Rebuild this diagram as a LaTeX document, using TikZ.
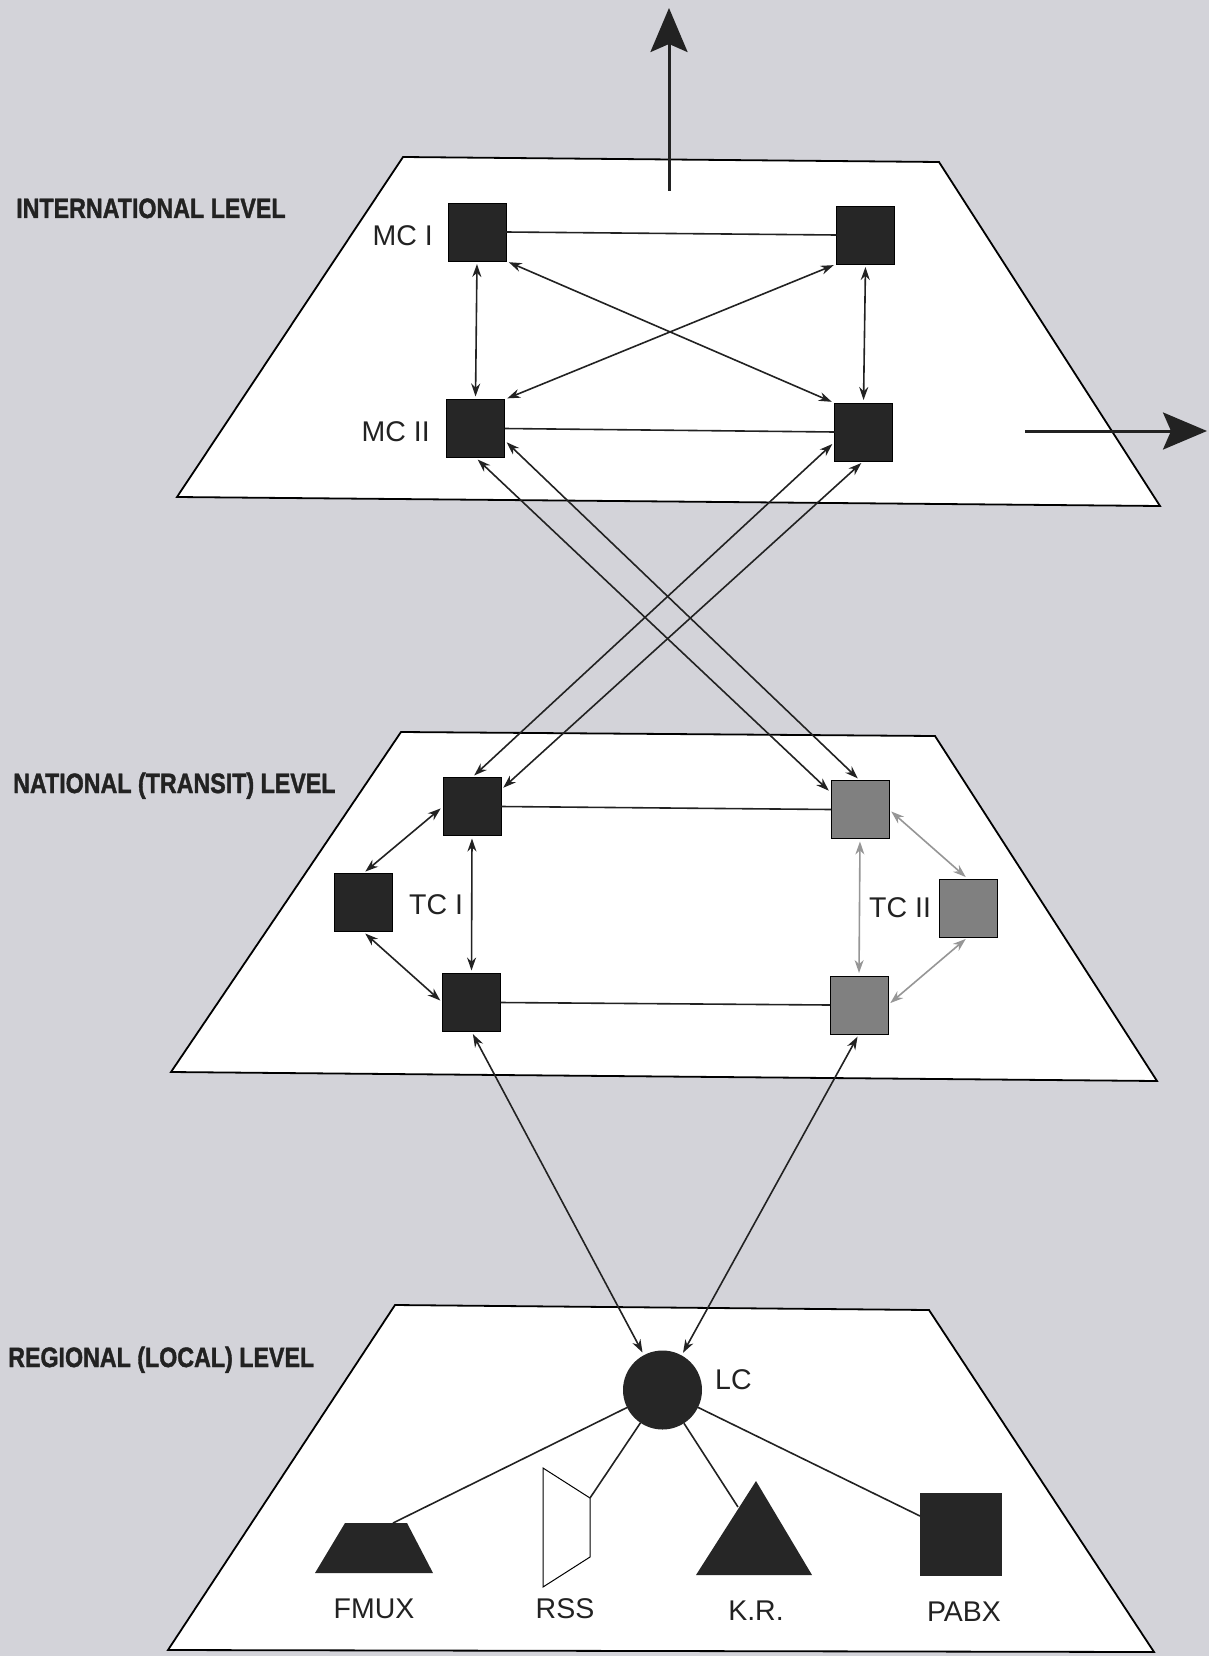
\documentclass[tikz,border=0pt]{standalone}
\usepackage{graphicx}
\usepackage{fontspec}
\setmainfont{Liberation Sans}
\newfontfamily\heavysans[BoldFeatures={FakeBold=1.6}]{Liberation Sans}
\usetikzlibrary{arrows.meta}

\definecolor{bgpaper}{RGB}{211,211,217}
\definecolor{inkdark}{RGB}{34,34,34}
\definecolor{boxdark}{RGB}{38,38,38}
\definecolor{boxgrey}{RGB}{128,128,128}
\definecolor{linkgrey}{RGB}{150,150,150}

\newcommand\levelfont{\heavysans\fontsize{28}{30}\selectfont\bfseries}
\newcommand\tagfont{\fontsize{28.5}{30}\selectfont}
\newcommand\levelname[1]{\scalebox{0.83}[1]{#1}}

\begin{document}
\begin{tikzpicture}[x=1pt,y=-1pt,
  plane/.style={draw=black, fill=white, line width=1.8pt, line join=miter},
  exch/.style={rectangle, minimum size=58pt, inner sep=0pt, outer sep=0pt,
               draw=black, line width=0.8pt, fill=boxdark},
  exchgrey/.style={exch, fill=boxgrey},
  link/.style={draw=inkdark, line width=1.6pt},
  duplex/.style={link, {Stealth[length=13pt,width=9pt]}-{Stealth[length=13pt,width=9pt]},
                 shorten <=3pt, shorten >=3pt},
  duplexgrey/.style={duplex, draw=linkgrey},
  tag/.style={font=\tagfont, text=inkdark, inner sep=0pt},
  leveltag/.style={font=\levelfont, text=inkdark, inner sep=0pt, anchor=base west},
  outbound/.style={draw=inkdark, line width=3pt, -{Stealth[length=44pt,width=37pt,inset=8pt]}}
]

% paper
\fill[bgpaper] (0,0) rectangle (1209,1656);
\useasboundingbox (0,0) rectangle (1209,1656);

% the three planes
\draw[plane] (403,157) -- (939,162) -- (1160,506) -- (177,497) -- cycle;
\draw[plane] (401,732) -- (935,736) -- (1157,1081) -- (171,1072) -- cycle;
\draw[plane] (395,1305) -- (929,1310) -- (1154,1652) -- (168,1650) -- cycle;

% level captions
\node[leveltag] (capint) at (16,218) {\levelname{INTERNATIONAL LEVEL}};
\node[leveltag] (capnat) at (13,793) {\levelname{NATIONAL (TRANSIT) LEVEL}};
\node[leveltag] (capreg) at (8,1367) {\levelname{REGIONAL (LOCAL) LEVEL}};

% outgoing international routes
\coordinate (upfoot) at (669,191);
\coordinate (uptip) at (669,8);
\coordinate (eastfoot) at (1025,431);
\coordinate (easttip) at (1207,431);
\draw[outbound] (upfoot) -- (uptip);
\draw[outbound] (eastfoot) -- (easttip);

% international exchanges
\node[exch] (mc1)  at (477,232) {};
\node[exch] (mc1r) at (865.5,235) {};
\node[exch] (mc2)  at (475.5,428.5) {};
\node[exch] (mc2r) at (863.5,432) {};
\node[tag, anchor=base east] (mc1lab) at (433,245) {MC I};
\node[tag, anchor=base east] (mc2lab) at (430,441) {MC II};

\draw[link] (mc1.east) -- (mc1r.west);
\draw[link] (mc2.east) -- (mc2r.west);
\draw[duplex] (mc1.south) -- (mc2.north);
\draw[duplex] (mc1r.south) -- (mc2r.north);
\draw[duplex] (mc1.south east) -- (mc2r.north west);
\draw[duplex] (mc1r.south west) -- (mc2.north east);

% transit exchanges
\node[exch] (t1) at (472,806.5) {};
\node[exch] (t2) at (363,902.5) {};
\node[exch] (t3) at (471.5,1002.5) {};
\node[exchgrey] (g1) at (860,809.5) {};
\node[exchgrey] (g2) at (968,908) {};
\node[exchgrey] (g3) at (859,1005) {};
\node[tag, anchor=base west] (tc1lab) at (409,914) {TC I};
\node[tag, anchor=base west] (tc2lab) at (869,917) {TC II};

\draw[link] (t1.east) -- (g1.west);
\draw[link] (t3.east) -- (g3.west);
\draw[duplex] (t1.south) -- (t3.north);
\draw[duplex] (t1.west) -- (t2.north);
\draw[duplex] (t2.south) -- (t3.west);
\draw[duplexgrey] (g1.south) -- (g3.north);
\draw[duplexgrey] (g1.east) -- (g2.north);
\draw[duplexgrey] (g2.south) -- (g3.east);

% international <-> transit
\draw[duplex] (mc2.south) -- (g1.150);
\draw[duplex] (mc2.-22) -- (g1.north);
\draw[duplex] (mc2r.199) -- (t1.north);
\draw[duplex] (mc2r.south) -- (t1.30);

% local exchange
\node[circle, minimum size=79pt, inner sep=0pt, outer sep=0pt, fill=boxdark] (lc) at (662.5,1390) {};
\node[tag, anchor=base west] (lclab) at (715,1389) {LC};

\draw[duplex] (t3.south) -- (lc);
\draw[duplex] (g3.south) -- (lc);

% subscriber equipment
\fill[boxdark] (315,1573) -- (345,1523) -- (407,1523) -- (433,1573) -- cycle;
\draw[draw=black, fill=white, line width=1pt, line join=miter]
  (543,1468) -- (590,1498) -- (590,1557) -- (543,1587) -- cycle;
\fill[boxdark] (756,1481) -- (812,1575) -- (696,1575) -- cycle;
\fill[boxdark] (920,1493) rectangle (1002,1576);

\coordinate (fmuxtop) at (393,1523);
\coordinate (rsstip) at (590,1498);
\coordinate (krside) at (738,1507);
\coordinate (pabxside) at (920,1516);

\draw[link] (lc) -- (fmuxtop);
\draw[link] (lc) -- (rsstip);
\draw[link] (lc) -- (krside);
\draw[link] (lc) -- (pabxside);

\node[tag, anchor=base] (fmuxlab) at (374,1618) {FMUX};
\node[tag, anchor=base] (rsslab) at (565,1618) {RSS};
\node[tag, anchor=base] (krlab) at (756,1620) {K.R.};
\node[tag, anchor=base] (pabxlab) at (964,1621) {PABX};

\end{tikzpicture}
\end{document}
